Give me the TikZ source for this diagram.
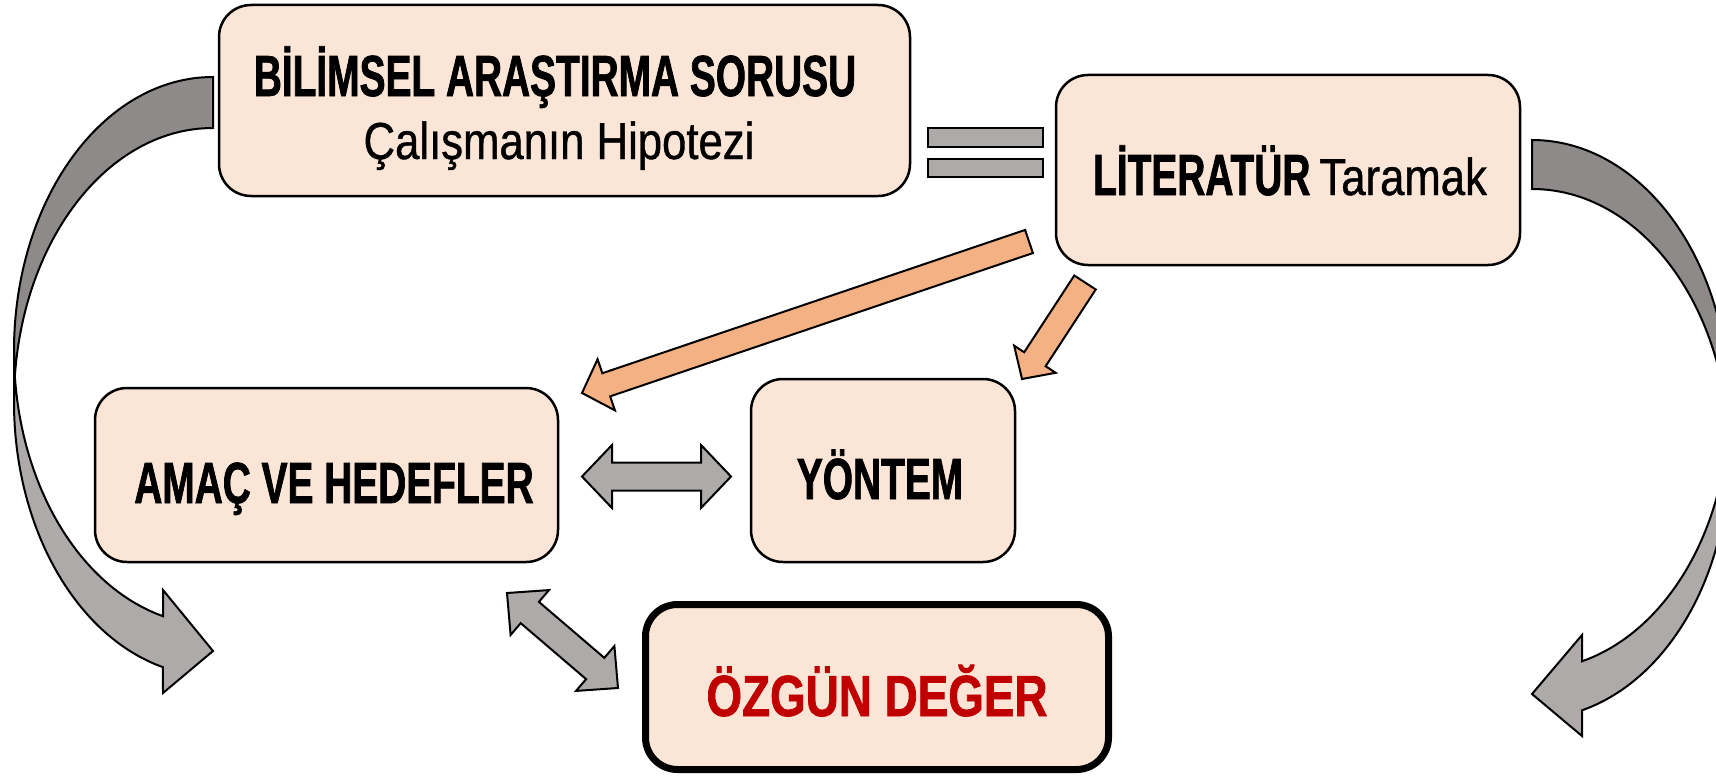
\documentclass[tikz,border=0pt]{standalone}
\usepackage{fontspec}
\setmainfont{Liberation Sans}
\newfontfamily\boldcond{Liberation Sans}[FakeStretch=0.67, FakeBold=1.2]
\newfontfamily\regcond{Liberation Sans}[FakeStretch=0.84, FakeBold=0.8]
\newfontfamily\redcond{Liberation Sans}[FakeStretch=0.79, FakeBold=1.2]
\usetikzlibrary{calc}
\definecolor{boxfill}{RGB}{251,229,214}
\definecolor{orangearrow}{RGB}{244,177,131}
\definecolor{grayarrow}{RGB}{174,170,170}
\definecolor{grayback}{RGB}{141,138,137}
\definecolor{darkred}{RGB}{192,0,0}

% block arrow: style, from, to, half shaft, half head, head length
\newcommand{\blockarrow}[6]{%
  \coordinate (ba-h) at ($(#3)!#6pt!(#2)$);
  \draw[#1] ($(#2)!#4pt!90:(#3)$) -- ($(ba-h)!#4pt!90:(#3)$) -- ($(ba-h)!#5pt!90:(#3)$)
    -- (#3) -- ($(ba-h)!#5pt!-90:(#3)$) -- ($(ba-h)!#4pt!-90:(#3)$) -- ($(#2)!#4pt!-90:(#3)$) -- cycle;
}
% double block arrow: style, tip A, tip B, half shaft, half head, head length
\newcommand{\dblockarrow}[6]{%
  \coordinate (da-1) at ($(#2)!#6pt!(#3)$);
  \coordinate (da-2) at ($(#3)!#6pt!(#2)$);
  \draw[#1] (#2) -- ($(da-1)!#5pt!90:(#3)$) -- ($(da-1)!#4pt!90:(#3)$) -- ($(da-2)!#4pt!90:(#3)$)
    -- ($(da-2)!#5pt!90:(#3)$) -- (#3) -- ($(da-2)!#5pt!-90:(#3)$) -- ($(da-2)!#4pt!-90:(#3)$)
    -- ($(da-1)!#4pt!-90:(#3)$) -- ($(da-1)!#5pt!-90:(#3)$) -- cycle;
}

\tikzset{
  box/.style={draw=black, line width=2.5pt, fill=boxfill, rounded corners=32pt, inner sep=0pt},
  thickbox/.style={box, line width=7pt},
  orangeblk/.style={draw=black, line width=2pt, fill=orangearrow, line join=miter},
  grayblk/.style={draw=black, line width=2pt, fill=grayarrow, line join=miter},
  curveback/.style={draw=black, line width=2pt, fill=grayback, line join=miter},
  curvefront/.style={draw=black, line width=2pt, fill=grayarrow, line join=miter},
  eqbar/.style={draw=black, line width=1.5pt, fill=grayarrow},
  boldtxt/.style={font=\boldcond\bfseries\fontsize{58}{66}\selectfont, text=black, inner sep=0pt},
  regtxt/.style={font=\regcond\fontsize{52}{60}\selectfont, text=black, inner sep=0pt},
  redtxt/.style={font=\redcond\bfseries\fontsize{58}{66}\selectfont, text=darkred, inner sep=0pt},
}

\begin{document}
\begin{tikzpicture}[x=1pt, y=-1pt]
\clip (0,0) rectangle (1716,776);
\fill[white] (0,0) rectangle (1716,776);

% ---- left curved arrow ----
\draw[curveback] (213,77) arc[start angle=90, end angle=180, x radius=199pt, y radius=274pt]
  -- (14,402) arc[start angle=180, end angle=90, x radius=199pt, y radius=274pt] -- cycle;
\draw[curvefront] (14,402) arc[start angle=180, end angle=255.44, x radius=199pt, y radius=274pt]
  -- (163,693) -- (213,651) -- (163,590) -- (163,616.2)
  arc[start angle=255.44, end angle=180, x radius=199pt, y radius=274pt] -- cycle;

% ---- right curved arrow ----
\draw[curveback] (1532,140) arc[start angle=90, end angle=0, x radius=197pt, y radius=265pt]
  -- (1729,454) arc[start angle=0, end angle=90, x radius=197pt, y radius=265pt] -- cycle;
\draw[curvefront] (1729,454) arc[start angle=0, end angle=-75.30, x radius=197pt, y radius=265pt]
  -- (1582,736) -- (1532,694) -- (1582,635) -- (1582,661.3)
  arc[start angle=-75.30, end angle=0, x radius=197pt, y radius=265pt] -- cycle;

% ---- boxes ----
\node[box, minimum width=691pt, minimum height=191pt] (soru) at (564.5,100.5) {};
\node[box, minimum width=464pt, minimum height=190pt] (lit) at (1288,170) {};
\node[box, minimum width=463pt, minimum height=174pt] (amac) at (326.5,475) {};
\node[box, minimum width=264pt, minimum height=183pt] (yontem) at (883,470.5) {};
\node[thickbox, minimum width=463pt, minimum height=165pt] (ozgun) at (877,687) {};

% ---- texts ----
\node[boldtxt, anchor=base] (t-soru1) at (555,96) {BİLİMSEL ARAŞTIRMA SORUSU};
\node[regtxt, anchor=base] (t-soru2) at (559,159) {Çalışmanın Hipotezi};
\node[inner sep=0pt, anchor=base, font=\fontsize{58}{66}\selectfont] (t-lit) at (1290,195)
  {{\boldcond\bfseries LİTERATÜR}\hspace{9pt}{\regcond\fontsize{52}{60}\selectfont Taramak}};
\node[boldtxt, anchor=base] (t-amac) at (334,503) {AMAÇ VE HEDEFLER};
\node[boldtxt, anchor=base] (t-yontem) at (880,499) {YÖNTEM};
\node[redtxt, anchor=base] (t-ozgun) at (877,716) {ÖZGÜN DEĞER};

% ---- equals sign between question and literature ----
\draw[eqbar] (928,128) rectangle (1043,147);
\draw[eqbar] (928,159) rectangle (1043,177);

% ---- orange arrows from literature ----
\coordinate (oa1s) at (1029,241.5);
\coordinate (oa1e) at (582,393);
\coordinate (oa2s) at (1085,282.5);
\coordinate (oa2e) at (1022,379);
\blockarrow{orangeblk}{oa1s}{oa1e}{12.2}{27}{25.6}
\blockarrow{orangeblk}{oa2s}{oa2e}{12.8}{24.8}{23.6}

% ---- gray double arrows ----
\coordinate (da1a) at (582,476.5);
\coordinate (da1b) at (731,476.5);
\coordinate (da2a) at (507,593);
\coordinate (da2b) at (618,688);
\dblockarrow{grayblk}{da1a}{da1b}{14}{31.5}{30}
\dblockarrow{grayblk}{da2a}{da2b}{14}{29.5}{30}
\end{tikzpicture}
\end{document}
